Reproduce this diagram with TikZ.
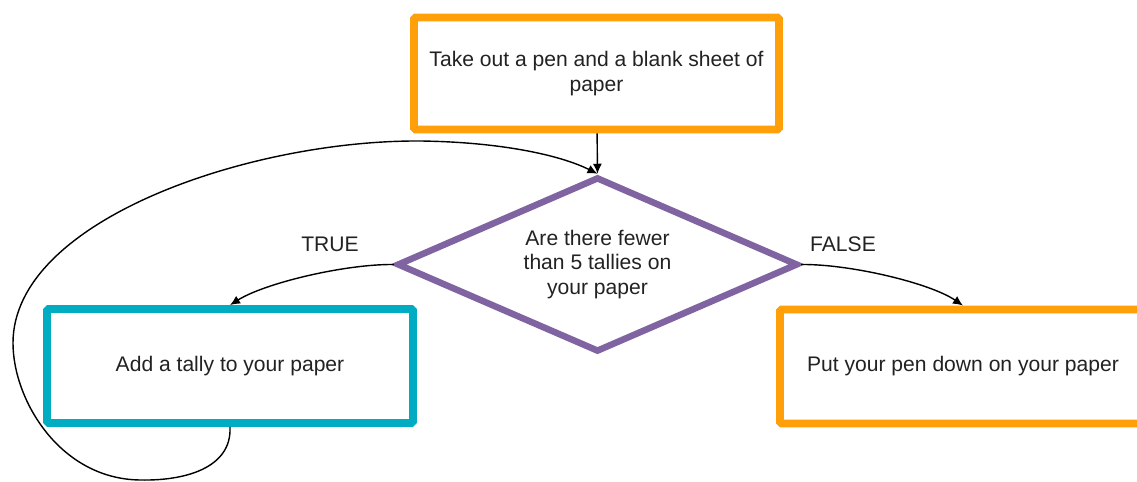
\documentclass[tikz,border=0pt]{standalone}
\usepackage{fontspec}
\setmainfont{Liberation Sans}
\usetikzlibrary{shapes.geometric,arrows.meta}

\begin{document}
\begin{tikzpicture}[x=0.02cm,y=-0.02cm,
    every node/.style={font=\fontsize{12}{14}\selectfont,text=textgray},
    box/.style={draw,rounded corners=1pt,line width=4.5pt,minimum width=7.32cm,minimum height=2.28cm,align=center},
    choice/.style={draw=choicepurple,diamond,line width=3.7pt,aspect=2.3,minimum width=8.02cm,minimum height=3.5cm,align=center,inner sep=0pt},
    flow/.style={-{Latex[length=2mm,width=1.8mm]},line width=0.8pt}]
		    \definecolor{boxorange}{RGB}{255,160,10}
		    \definecolor{tallyteal}{RGB}{0,172,193}
		    \definecolor{choicepurple}{RGB}{128,100,162}
		    \definecolor{textgray}{RGB}{34,34,34}
		    \useasboundingbox (0,0) rectangle (1137,482);
		    \node(start) [box,draw=boxorange,minimum width=7.3cm,minimum height=2.24cm] at (596.5,73.5) {Take out a pen and a blank sheet of\\paper};
		    \node(decision) [choice] at (597.5,264.5) {Are there fewer\\than 5 tallies on\\your paper};
		    \node(tally) [box,draw=tallyteal] at (230,366) {Add a tally to your paper};
		    \node(pendown) [box,draw=boxorange] at (963,366.5) {Put your pen down on your paper};
		    \node(truelabel) at (330,244) {TRUE};
		    \node(falselabel) at (843,244) {FALSE};
		    
		    \coordinate (loopbot) at (140,480);
		    \coordinate (loopleft) at (13,343);
		    \coordinate (looptop) at (420,141);
		    
		    \draw[flow] (start) -- (decision.north);
		    \draw[flow] (decision.west) .. controls (345,264) and (265,283) .. (tally.north);
		    \draw[flow] (decision.east) .. controls (850,264) and (930,283) .. (pendown.north);
		    \draw[flow] (tally.south) .. controls (232,468) and (185,481) .. (loopbot) .. controls (60,479) and (13,400) .. (loopleft) .. controls (13,220) and (250,140) .. (looptop) .. controls (500,142) and (560,155) .. (decision.north);
\end{tikzpicture}
\end{document}
